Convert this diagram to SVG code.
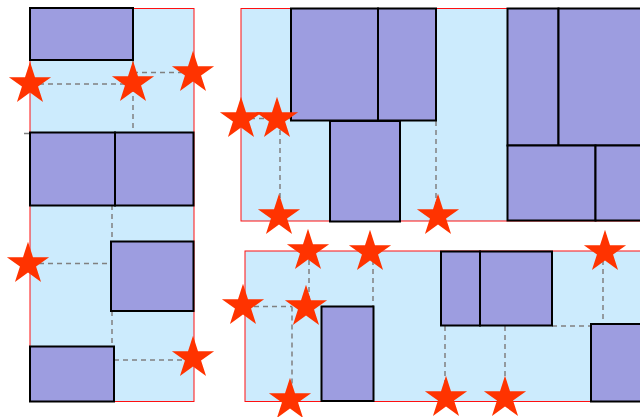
<svg xmlns="http://www.w3.org/2000/svg" width="640" height="417" viewBox="0 0 640 417">
<style>
.bin{fill:#CCEBFD;stroke:#FF1010;stroke-width:1}
.box{fill:#9D9DE0;stroke:#000;stroke-width:2}
.dash{fill:none;stroke:#808080;stroke-width:1.5;stroke-dasharray:5,4}
.star{fill:#FF3300}
</style>
<defs>
<path id="st" d="M0,-22.2 L4.99,-6.86 L21.11,-6.86 L8.06,2.62 L13.05,17.96 L0,8.48 L-13.05,17.96 L-8.06,2.62 L-21.11,-6.86 L-4.99,-6.86 Z"/>
</defs>
<rect width="640" height="417" fill="#fff"/>
<g id="bin1"><rect class="bin" x="30" y="8.5" width="164" height="393"/></g>
<g id="bin2"><rect class="bin" x="241" y="8.5" width="420" height="212.5"/></g>
<g id="bin3"><rect class="bin" x="245" y="251" width="420" height="150.5"/></g>
<g id="connectors">
<path class="dash" d="M30,84 H133 M133,72.5 H193 M133,60 V132 M24,133.5 H30 M112,205 V241 M30,263.5 H111 M112,311 V346 M114,360 H193"/>
<path class="dash" d="M241,118.5 H291 M280,121 V215 M436,121 V215"/>
<path class="dash" d="M309,251 V306 M373,251 V306 M245,306.5 H292 M292,306.5 V398 M603,251 V324 M552,326 H591 M445,326 V398 M505,326 V398"/>
</g>
<g id="boxA"><rect class="box" x="30" y="8" width="103" height="52"/></g>
<g id="boxB"><rect class="box" x="30" y="132.5" width="85" height="73"/></g>
<g id="boxC"><rect class="box" x="115" y="132.5" width="78.5" height="73"/></g>
<g id="boxD"><rect class="box" x="111" y="241.5" width="82.5" height="69.5"/></g>
<g id="boxE"><rect class="box" x="30" y="346.5" width="84" height="55"/></g>
<g id="boxF"><rect class="box" x="291" y="8.5" width="87" height="112"/></g>
<g id="boxG"><rect class="box" x="378" y="8.5" width="58" height="112"/></g>
<g id="boxH"><rect class="box" x="330" y="121" width="70" height="100.5"/></g>
<g id="boxI"><rect class="box" x="507.5" y="8.5" width="51" height="137"/></g>
<g id="boxJ"><rect class="box" x="558.5" y="8.5" width="90" height="137"/></g>
<g id="boxK"><rect class="box" x="507.5" y="145.5" width="88" height="75"/></g>
<g id="boxL"><rect class="box" x="595.5" y="145.5" width="60" height="75"/></g>
<g id="boxM"><rect class="box" x="321.5" y="306.5" width="52" height="94.5"/></g>
<g id="boxN"><rect class="box" x="441" y="251.5" width="39" height="74"/></g>
<g id="boxO"><rect class="box" x="480" y="251.5" width="72" height="74"/></g>
<g id="boxP"><rect class="box" x="591" y="324" width="60" height="77.5"/></g>
<g id="star1"><use href="#st" class="star" x="30" y="84"/></g>
<g id="star2"><use href="#st" class="star" x="133" y="83"/></g>
<g id="star3"><use href="#st" class="star" x="193" y="73"/></g>
<g id="star4"><use href="#st" class="star" x="28" y="264"/></g>
<g id="star5"><use href="#st" class="star" x="193" y="358"/></g>
<g id="star6"><use href="#st" class="star" x="241" y="119"/></g>
<g id="star7"><use href="#st" class="star" x="277" y="119"/></g>
<g id="star8"><use href="#st" class="star" x="279" y="216"/></g>
<g id="star9"><use href="#st" class="star" x="438" y="216"/></g>
<g id="star10"><use href="#st" class="star" x="308" y="251"/></g>
<g id="star11"><use href="#st" class="star" x="370" y="252"/></g>
<g id="star12"><use href="#st" class="star" x="243" y="306"/></g>
<g id="star13"><use href="#st" class="star" x="306" y="307"/></g>
<g id="star14"><use href="#st" class="star" x="290" y="400"/></g>
<g id="star15"><use href="#st" class="star" x="446" y="398"/></g>
<g id="star16"><use href="#st" class="star" x="505" y="398"/></g>
<g id="star17"><use href="#st" class="star" x="605" y="252"/></g>
</svg>
